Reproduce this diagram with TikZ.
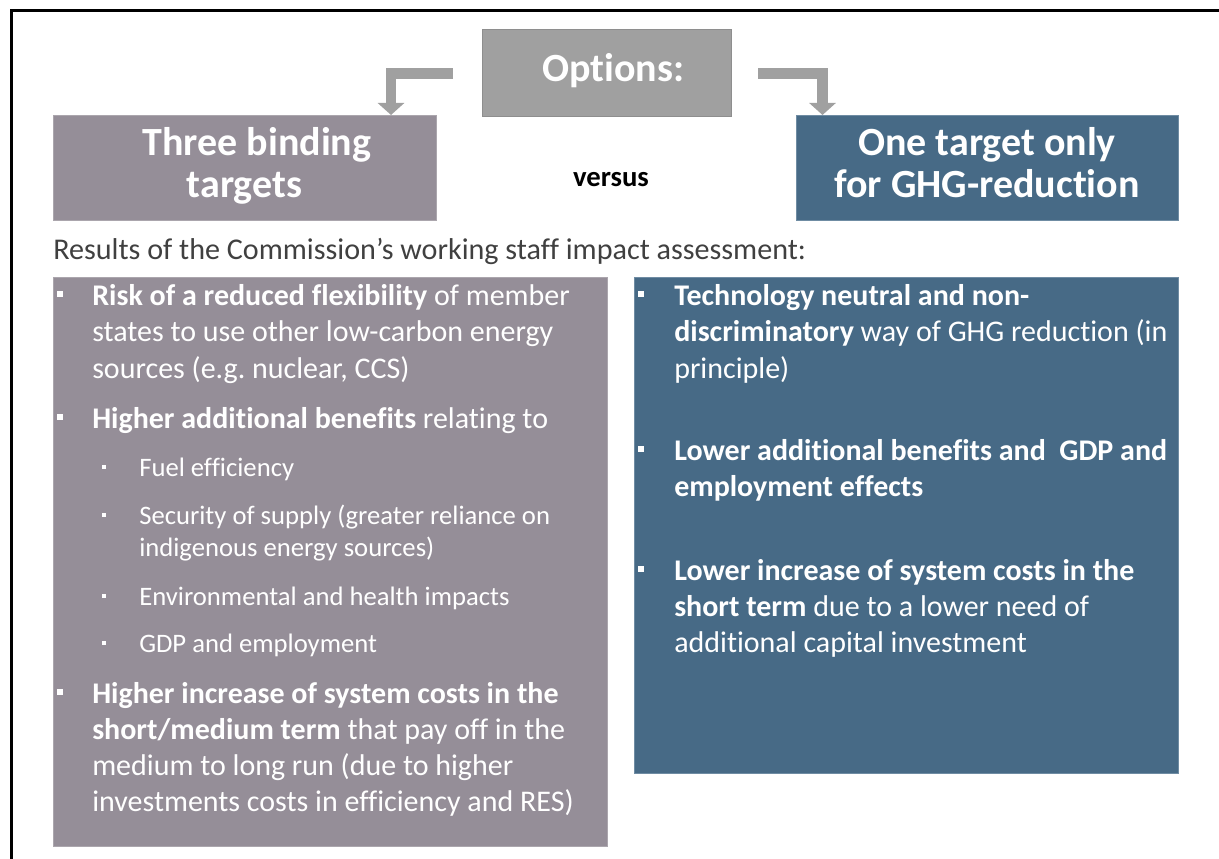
\documentclass[tikz,border=0pt]{standalone}
\usepackage{fontspec}
\setmainfont{Carlito}[Ligatures={NoCommon,NoContextual}]
\usetikzlibrary{arrows.meta}
\frenchspacing
\definecolor{optgrey}{HTML}{A0A0A0}
\definecolor{optedge}{HTML}{8E8E8E}
\definecolor{mauve}{HTML}{958E98}
\definecolor{mauveedge}{HTML}{ABA6AD}
\definecolor{steel}{HTML}{476A86}
\definecolor{steeledge}{HTML}{6F8CA3}
\definecolor{capgrey}{HTML}{404040}
\begin{document}
\begin{tikzpicture}[x=0.75pt,y=-0.75pt,
  panel/.style={anchor=north west,inner sep=0pt,line width=0.75pt},
  headtxt/.style={anchor=base,inner sep=0pt,text=white,font=\fontsize{30pt}{34pt}\selectfont\bfseries},
  maintxt/.style={anchor=base west,inner sep=0pt,text=white,font=\fontsize{22.5pt}{27pt}\selectfont},
  subtxt/.style={anchor=base west,inner sep=0pt,text=white,font=\fontsize{20pt}{24pt}\selectfont},
  mainbul/.style={fill=white,minimum size=4.5pt,inner sep=0pt},
  subbul/.style={fill=white,minimum size=3.6pt,inner sep=0pt},
  elbow/.style={optgrey,line width=8pt,-{Triangle[width=19.5pt,length=9pt]}}]
\useasboundingbox (0,0) rectangle (1219,859);
% outer frame (open at right and bottom)
\draw[line width=2.25pt] (11.5,859) -- (11.5,11) -- (1219,11);

% header boxes
\node[panel,fill=optgrey,draw=optedge,minimum width=249*0.75pt,minimum height=87*0.75pt] (opt) at (482,29) {};
\node[headtxt] (opttxt) at (613,82) {Options:};
\node[panel,fill=mauve,draw=mauveedge,minimum width=383*0.75pt,minimum height=105*0.75pt] (three) at (53,115) {};
\node[headtxt] (three1) at (257,156) {Three binding};
\node[headtxt] (three2) at (244.5,198) {targets};
\node[panel,fill=steel,draw=steeledge,minimum width=382*0.75pt,minimum height=105*0.75pt] (one) at (796,115) {};
\node[headtxt] (one1) at (987,156) {One target only};
\node[headtxt] (one2) at (987,198) {for GHG-reduction};
\node[anchor=base,inner sep=0pt,font=\fontsize{21.5pt}{26pt}\selectfont\bfseries] (vs) at (611,187) {versus};

% elbow connectors from the options box
\coordinate (la) at (453,73.5);
\coordinate (lt) at (391,115);
\coordinate (ra) at (758,73.5);
\coordinate (rt) at (822.5,115);
\draw[elbow] (la) -| (lt);
\draw[elbow] (ra) -| (rt);

% caption
\node[anchor=base west,inner sep=0pt,text=capgrey,font=\fontsize{22.6pt}{27pt}\selectfont] (cap) at (53,259)
  {Results of the Commission’s working staff impact assessment:};

% content panels
\node[panel,fill=mauve,draw=mauveedge,minimum width=554*0.75pt,minimum height=569*0.75pt] (lbox) at (53,277) {};
\node[panel,fill=steel,draw=steeledge,minimum width=544*0.75pt,minimum height=496*0.75pt] (rbox) at (634,277) {};

% left panel
\node[mainbul] (lb1) at (60,294) {};
\node[maintxt] (l1) at (92,305) {\textbf{Risk of a reduced flexibility} of member};
\node[maintxt] (l2) at (92,341) {states to use other low-carbon energy};
\node[maintxt] (l3) at (92,378) {sources (e.g. nuclear, CCS)};
\node[mainbul] (lb2) at (60,417) {};
\node[maintxt] (l4) at (92,428) {\textbf{Higher additional benefits} relating to};
\node[subbul] (sb1) at (104,467) {};
\node[subtxt] (s1) at (139,476) {Fuel efficiency};
\node[subbul] (sb2) at (104,515) {};
\node[subtxt] (s2) at (139,524) {Security of supply (greater reliance on};
\node[subtxt] (s3) at (139,556) {indigenous energy sources)};
\node[subbul] (sb3) at (104,596) {};
\node[subtxt] (s4) at (139,605) {Environmental and health impacts};
\node[subbul] (sb4) at (104,643) {};
\node[subtxt] (s5) at (139,652) {GDP and employment};
\node[mainbul] (lb3) at (60,692) {};
\node[maintxt] (l5) at (92,703) {\textbf{Higher increase of system costs in the}};
\node[maintxt] (l6) at (92,739) {\textbf{short/medium term} that pay off in the};
\node[maintxt] (l7) at (92,775) {medium to long run (due to higher};
\node[maintxt] (l8) at (92,811) {investments costs in efficiency and RES)};

% right panel
\node[mainbul] (rb1) at (641,294) {};
\node[maintxt] (r1) at (674,305) {\textbf{Technology neutral and non-}};
\node[maintxt] (r2) at (674,341) {\textbf{discriminatory} way of GHG reduction (in};
\node[maintxt] (r3) at (674,378) {principle)};
\node[mainbul] (rb2) at (641,449) {};
\node[maintxt] (r4) at (674,460) {\textbf{Lower additional benefits and\ \ GDP and}};
\node[maintxt] (r5) at (674,496) {\textbf{employment effects}};
\node[mainbul] (rb3) at (641,569) {};
\node[maintxt] (r6) at (674,580) {\textbf{Lower increase of system costs in the}};
\node[maintxt] (r7) at (674,616) {\textbf{short term} due to a lower need of};
\node[maintxt] (r8) at (674,652) {additional capital investment};
\end{tikzpicture}
\end{document}
